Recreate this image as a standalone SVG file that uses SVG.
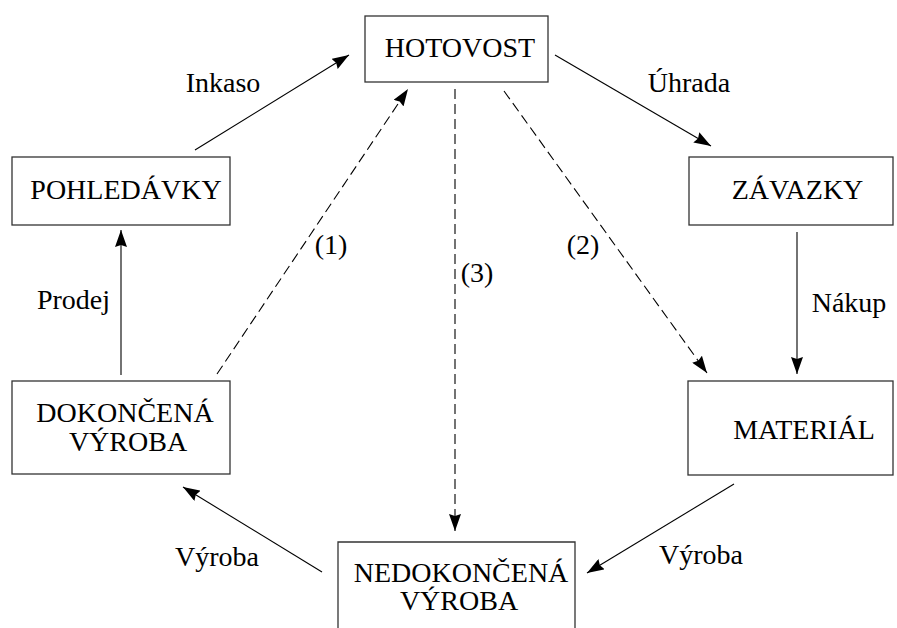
<svg xmlns="http://www.w3.org/2000/svg" width="897" height="628" viewBox="0 0 897 628">
<defs>
<style>
.box{fill:#fff;stroke:#333;stroke-width:1.3}
.t{font-family:'Liberation Serif','Times New Roman',Times,'DejaVu Serif',serif;font-size:28px;fill:#000;text-anchor:middle}
.c{fill:none;stroke:#000;stroke-width:1.1}
.d{stroke-dasharray:10 5}
</style>
<marker id="ah" viewBox="0 0 17 12" refX="17" refY="6" markerWidth="17" markerHeight="12" markerUnits="userSpaceOnUse" orient="auto">
<path d="M0,0 L17,6 L0,12 L2,6 z" fill="#000"/>
</marker>
</defs>
<rect width="897" height="628" fill="#fff"/>
<g id="connectors" font-family="Liberation Serif, Times New Roman, serif">
<line class="c" x1="195" y1="150" x2="349" y2="55" marker-end="url(#ah)"/>
<line class="c" x1="555" y1="55" x2="711" y2="146" marker-end="url(#ah)"/>
<line class="c" x1="797" y1="232" x2="797" y2="374" marker-end="url(#ah)"/>
<line class="c" x1="121" y1="375" x2="121" y2="230" marker-end="url(#ah)"/>
<line class="c" x1="734" y1="484" x2="587" y2="573" marker-end="url(#ah)"/>
<line class="c" x1="322" y1="572" x2="183" y2="487" marker-end="url(#ah)"/>
<line class="c d" x1="217" y1="374" x2="408" y2="89" marker-end="url(#ah)"/>
<line class="c d" x1="504" y1="91" x2="707" y2="373" marker-end="url(#ah)"/>
<line class="c d" x1="455" y1="89" x2="455" y2="531" marker-end="url(#ah)"/>
<text class="t" x="223" y="92">Inkaso</text>
<text class="t" x="689" y="92">Úhrada</text>
<text class="t" x="73.5" y="309">Prodej</text>
<text class="t" x="849" y="312">Nákup</text>
<text class="t" x="331" y="254">(1)</text>
<text class="t" x="583" y="254">(2)</text>
<text class="t" x="477" y="282">(3)</text>
<text class="t" x="217" y="566">Výroba</text>
<text class="t" x="701" y="564">Výroba</text>
</g>
<g id="hotovost" font-family="Liberation Serif, Times New Roman, serif">
<rect class="box" x="365" y="16" width="183" height="66"/>
<text class="t" x="460" y="57">HOTOVOST</text>
</g>
<g id="pohledavky" font-family="Liberation Serif, Times New Roman, serif">
<rect class="box" x="12" y="157" width="218" height="68"/>
<text class="t" x="126" y="199">POHLEDÁVKY</text>
</g>
<g id="zavazky" font-family="Liberation Serif, Times New Roman, serif">
<rect class="box" x="689" y="157" width="204" height="68"/>
<text class="t" x="797.5" y="199">ZÁVAZKY</text>
</g>
<g id="dokoncena" font-family="Liberation Serif, Times New Roman, serif">
<rect class="box" x="12" y="381" width="218" height="93"/>
<text class="t" x="125" y="422">DOKONČENÁ</text>
<text class="t" x="128" y="451">VÝROBA</text>
</g>
<g id="material" font-family="Liberation Serif, Times New Roman, serif">
<rect class="box" x="688" y="381" width="205" height="94"/>
<text class="t" x="804" y="439">MATERIÁL</text>
</g>
<g id="nedokoncena" font-family="Liberation Serif, Times New Roman, serif">
<path class="box" d="M338,628 V542 H575 V628"/>
<text class="t" x="461" y="582">NEDOKONČENÁ</text>
<text class="t" x="459" y="610">VÝROBA</text>
</g>
</svg>
